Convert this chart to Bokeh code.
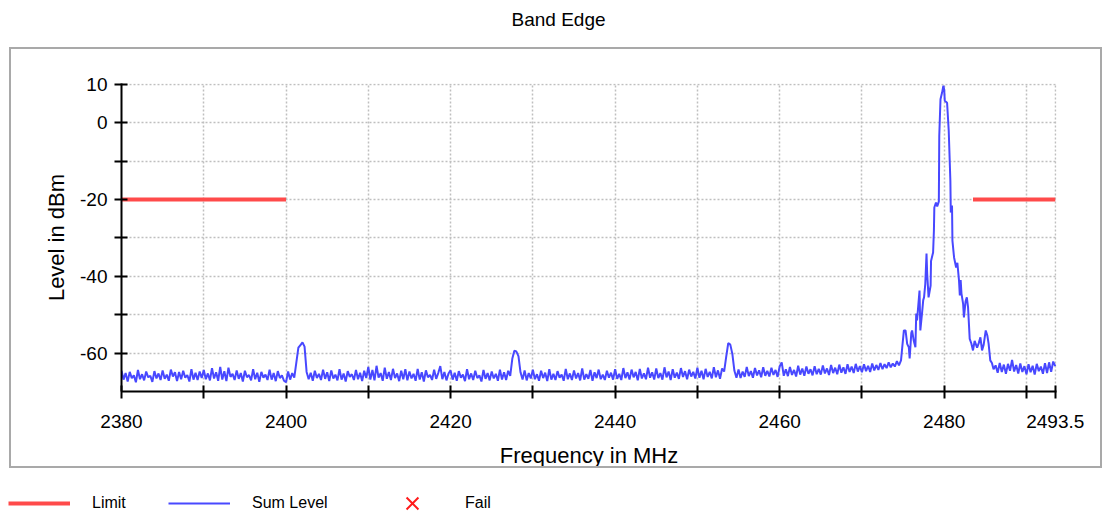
import numpy as np
from bokeh.plotting import figure
from bokeh.models import (ColumnDataSource, FixedTicker, Legend, LegendItem,
                          Range1d, InlineStyleSheet, Title)
from bokeh.embed import file_html
from bokeh.resources import INLINE

FONT = "Liberation Sans"

# ---------------- data ----------------
# noise floor sampled every 0.25 MHz from 2380 MHz to 2474.75 MHz
base_start = 2380.0
base_step = 0.25
base_level = [
    -64.6, -66.9, -65.2, -67.4, -64.9, -66.5, -65.8, -67.6, -64.4, -66.8, -65.5, -67.1, -64.8, -66.3, -65.9, -67.5, -64.7, -66.6, -65.3, -67.0,
    -64.5, -66.7, -65.6, -67.2, -64.3, -66.1, -65.0, -67.3, -64.9, -66.8, -64.6, -66.4, -65.7, -67.4, -64.2, -66.9, -65.1, -67.0, -64.8, -66.5,
    -64.4, -66.8, -65.3, -67.1, -63.9, -66.6, -65.0, -67.2, -63.6, -66.9, -64.7, -67.3, -63.8, -66.2, -65.4, -67.0, -64.5, -66.7, -65.2, -67.4,
    -64.6, -66.3, -65.7, -67.1, -64.2, -66.8, -65.1, -67.5, -64.9, -66.4, -65.6, -67.0, -64.3, -66.9, -65.2, -67.3, -64.7, -66.5, -65.8, -67.2,
    -67.6, -64.8, -66.9, -65.2, -66.4, -62.5, -58.6, -57.9, -57.2, -58.3, -64.9, -66.8, -65.1, -67.2, -64.6, -66.5, -65.4, -67.0, -64.3, -66.7,
    -65.0, -67.3, -64.5, -66.6, -65.6, -67.1, -64.2, -66.9, -65.3, -67.4, -64.7, -66.2, -65.5, -67.0, -64.4, -66.8, -65.1, -67.3, -64.6, -66.5,
    -63.6, -66.9, -64.4, -67.1, -63.3, -66.4, -65.2, -67.2, -63.8, -66.7, -64.9, -67.0, -64.1, -66.5, -65.3, -67.3, -64.6, -66.8, -64.2, -67.1,
    -64.8, -66.6, -65.4, -67.2, -64.1, -66.9, -65.0, -67.4, -64.5, -66.3, -65.7, -67.0, -64.3, -66.7, -65.2, -63.4, -66.8, -64.9, -67.1, -65.3,
    -64.5, -66.9, -65.1, -67.2, -64.7, -66.4, -65.6, -67.3, -64.2, -66.8, -65.3, -67.0, -64.6, -66.5, -65.8, -67.4, -64.4, -66.7, -65.2, -67.1,
    -64.8, -66.6, -65.4, -67.2, -64.3, -66.9, -65.0, -67.0, -64.6, -65.9, -61.5, -59.4, -59.6, -60.8, -65.0, -66.9, -64.5, -67.1, -65.2, -66.6,
    -64.3, -66.8, -65.5, -67.2, -64.6, -66.5, -65.1, -67.3, -64.2, -66.9, -65.4, -67.0, -64.7, -66.4, -65.6, -67.2, -64.1, -66.8, -65.3, -67.0,
    -64.5, -66.6, -65.2, -67.1, -64.0, -66.9, -65.5, -66.7, -64.4, -67.2, -65.0, -66.5, -64.3, -66.8, -65.6, -67.0, -64.6, -66.4, -65.1, -66.9,
    -64.2, -66.7, -65.4, -67.0, -63.9, -66.5, -65.0, -66.9, -64.3, -66.3, -64.9, -67.1, -64.1, -66.6, -65.3, -66.8, -63.8, -66.4, -65.0, -66.9,
    -64.0, -66.5, -65.2, -66.9, -63.7, -66.3, -64.8, -67.0, -64.2, -66.4, -65.1, -66.7, -63.9, -66.2, -64.7, -66.8, -64.3, -66.1, -64.9, -66.6,
    -63.8, -66.4, -64.6, -66.8, -64.1, -66.2, -64.9, -66.6, -63.7, -66.3, -64.5, -66.7, -64.0, -64.8, -61.0, -57.4, -57.8, -60.2, -64.6, -66.4,
    -64.3, -66.5, -64.8, -66.2, -63.6, -66.0, -64.7, -66.4, -63.9, -65.8, -64.5, -66.3, -63.7, -65.9, -64.6, -66.1, -63.8, -65.7, -64.4, -66.2,
    -63.5, -62.4, -65.9, -64.2, -66.0, -63.6, -65.7, -64.4, -66.1, -63.3, -65.6, -64.0, -65.9, -63.5, -65.4, -64.2, -65.8, -63.4, -65.5, -64.1,
    -65.6, -63.2, -65.3, -64.0, -65.7, -63.1, -65.2, -63.8, -65.5, -63.0, -65.1, -63.7, -65.4, -62.9, -64.9, -63.5, -65.2, -62.8, -64.8, -63.4,
    -65.0, -62.9, -64.7, -63.3, -64.9, -62.7, -64.5, -63.1, -64.4, -62.6, -64.2, -62.9, -63.9, -62.4, -63.7, -62.7, -63.5, -62.1, -63.2, -61.9,
]

# carrier around 2480 MHz (irregular sampling)
peak_freq = [
    2474.9, 2475.1, 2475.3, 2475.5, 2475.7, 2475.8, 2476.0, 2476.1, 2476.3, 2476.5,
    2476.6, 2476.7, 2477.0, 2477.1, 2477.3, 2477.45, 2477.55, 2477.7, 2477.85, 2477.93,
    2478.1, 2478.35, 2478.4, 2478.65, 2478.75, 2478.8, 2479.0, 2479.15, 2479.35, 2479.4,
    2479.55, 2479.75, 2479.9, 2480.0, 2480.07, 2480.35, 2480.55, 2480.75, 2480.8, 2480.95,
    2481.0, 2481.2, 2481.45, 2481.6, 2481.8, 2481.9, 2482.0, 2482.1, 2482.3, 2482.4,
    2482.6, 2482.75, 2482.9, 2483.1, 2483.3, 2483.5, 2483.7, 2484.0, 2484.2, 2484.4,
    2484.6, 2484.8, 2485.05, 2485.25, 2485.4, 2485.6, 2485.8, 2486.0,
]
peak_level = [
    -58.5, -54.1, -54.1, -57.6, -58.5, -61.4, -54.8, -54.1, -56.8, -58.5,
    -49.7, -51.5, -43.7, -54.1, -49.7, -46.2, -45.5, -42.0, -34.1, -39.3,
    -45.5, -42.4, -36.0, -33.8, -28.1, -22.1, -20.8, -21.8, -20.5, -3.4,
    6.1, 7.9, 9.6, 8.6, 5.7, 5.2, -2.1, -15.1, -23.4, -21.6,
    -30.7, -35.1, -37.7, -36.5, -41.1, -45.0, -41.0, -44.5, -47.2, -50.7,
    -46.5, -45.5, -48.1, -56.3, -57.5, -59.3, -56.8, -58.6, -57.4, -55.9,
    -59.3, -57.8, -54.1, -55.5, -57.6, -61.9, -62.6, -64.2,
]

# noise floor after the carrier, every 0.25 MHz from 2486.25 MHz
tail_start = 2486.25
tail_level = [
    -63.2, -65.1, -62.6, -64.9, -63.0, -65.4, -62.8, -64.6, -61.8, -64.8,
    -63.1, -65.3, -62.7, -64.9, -63.4, -65.5, -62.9, -65.0, -63.3, -65.6,
    -62.8, -64.7, -63.5, -65.4, -62.6, -65.2, -62.4, -64.9, -62.2, -63.4,
]

# limit lines
limit_xs = [[2380.0, 2400.0], [2483.5, 2493.5]]
limit_ys = [[-20.0, -20.0], [-20.0, -20.0]]

# no failing points (empty series)
fail_freq = [np.nan]
fail_level = [np.nan]

# ticks and labels
x_ticks = [2380, 2390, 2400, 2410, 2420, 2430, 2440, 2450, 2460, 2470, 2480, 2490, 2493.5]
x_tick_labels = ["2380", "", "2400", "", "2420", "", "2440", "", "2460", "", "2480", "", "2493.5"]
y_ticks = [-60, -50, -40, -30, -20, -10, 0, 10]
y_tick_labels = ["-60", "", "-40", "", "-20", "", "0", "10"]

title_text = "Band Edge"
legend_labels = ["Limit", "Sum Level", "Fail"]

freq = np.concatenate([
    base_start + base_step * np.arange(len(base_level)),
    np.array(peak_freq),
    tail_start + base_step * np.arange(len(tail_level)),
])
level = np.concatenate([base_level, peak_level, tail_level])

LIMIT_COLOR = "#ff4a4a"
SUM_COLOR = "#4848ff"
FAIL_COLOR = "#ff1a1a"

# ---------------- main chart ----------------
p = figure(
    frame_width=935, frame_height=308,
    min_border_left=121, min_border_right=46, min_border_top=83, min_border_bottom=82,
    x_range=Range1d(2380, 2493.65), y_range=Range1d(-70, 10.2),
    output_backend="svg", toolbar_location=None,
    title=title_text,
)
p.outline_line_color = None
p.background_fill_color = "white"
p.border_fill_color = "white"

# gray box framing the chart area (drawn by the page's CSS)
p.stylesheets = [InlineStyleSheet(css=(
    ":host { position: relative; }"
    ":host::after { content: ''; position: absolute; left: 9px; top: 47px;"
    " width: 1089px; height: 417px; border: 2px solid #a9a9a9;"
    " pointer-events: none; box-sizing: content-box; }"
))]

# spacer between the frame and the title, so the title sits near the top edge
p.add_layout(Title(text=" ", standoff=26, text_font=FONT, text_font_size="19px"), "above")

p.title.text_font = FONT
p.title.text_font_size = "19px"
p.title.text_font_style = "normal"
p.title.text_color = "black"
p.title.align = "left"
p.title.offset = 390
p.title.vertical_align = "top"
p.title.standoff = 6

grid_color = "#bfbfbf"
for g in (p.xgrid[0], p.ygrid[0]):
    g.grid_line_color = grid_color
    g.grid_line_width = 1.5
    g.grid_line_dash = "2 2"

xa = p.xaxis[0]
xa.ticker = FixedTicker(ticks=x_ticks)
xa.major_label_overrides = {t: s for t, s in zip(x_ticks, x_tick_labels)}
ya = p.yaxis[0]
ya.ticker = FixedTicker(ticks=y_ticks)
ya.major_label_overrides = {t: s for t, s in zip(y_ticks, y_tick_labels)}
p.xgrid[0].ticker = FixedTicker(ticks=x_ticks)
p.ygrid[0].ticker = FixedTicker(ticks=y_ticks)

for ax in (xa, ya):
    ax.axis_line_color = "black"
    ax.axis_line_width = 2
    ax.major_tick_line_color = "black"
    ax.major_tick_line_width = 2
    ax.major_tick_in = 6
    ax.major_tick_out = 7
    ax.minor_tick_line_color = None
    ax.major_label_text_font = FONT
    ax.major_label_text_font_size = "19px"
    ax.major_label_text_color = "black"
    ax.axis_label_text_font = FONT
    ax.axis_label_text_font_size = "22px"
    ax.axis_label_text_font_style = "normal"
    ax.axis_label_text_color = "black"

xa.axis_label = "Frequency in MHz"
xa.major_label_standoff = 16
xa.axis_label_standoff = 12
ya.axis_label = "Level in dBm"
ya.major_label_standoff = 7
ya.axis_label_standoff = 8

src = ColumnDataSource(data=dict(freq=freq, level=level))
limit_r = p.multi_line(xs=limit_xs, ys=limit_ys, line_color=LIMIT_COLOR, line_width=4)
sum_r = p.line("freq", "level", source=src, line_color=SUM_COLOR, line_width=2)
fail_src = ColumnDataSource(data=dict(freq=fail_freq, level=fail_level))
p.scatter("freq", "level", source=fail_src, marker="x",
          line_color=FAIL_COLOR, line_width=2, size=12)

# ---------------- legend strip below the box ----------------
foot = figure(width=1102, height=44, min_border=0,
              x_axis_location=None, y_axis_location=None,
              output_backend="svg", toolbar_location=None)
foot.outline_line_color = None
foot.grid.visible = False
foot.background_fill_color = "white"
foot.border_fill_color = "white"

# legend keys (same styles as the chart; their series hold no visible points)
key_src = ColumnDataSource(data=dict(freq=fail_freq, level=fail_level))
lim_key = foot.line("freq", "level", source=key_src, line_color=LIMIT_COLOR, line_width=4)
sum_key = foot.line("freq", "level", source=key_src, line_color=SUM_COLOR, line_width=2)
fail_key = foot.scatter("freq", "level", source=key_src, marker="x",
                        line_color=FAIL_COLOR, line_width=2, size=12)


def add_legend(label, renderer, vx, gh):
    lg = Legend(items=[LegendItem(label=label, renderers=[renderer])],
                location=(vx, 14 - gh / 2), orientation="horizontal",
                glyph_width=62, glyph_height=gh, label_standoff=22,
                label_height=gh, padding=0, margin=0, spacing=0,
                border_line_color=None, background_fill_alpha=0,
                label_text_font=FONT, label_text_font_size="16px",
                label_text_color="black")
    foot.add_layout(lg)


add_legend(legend_labels[0], lim_key, 8, 28)
add_legend(legend_labels[1], sum_key, 168, 28)
add_legend(legend_labels[2], fail_key, 381, 42)

open("out.html", "w").write(file_html([p, foot], INLINE))
